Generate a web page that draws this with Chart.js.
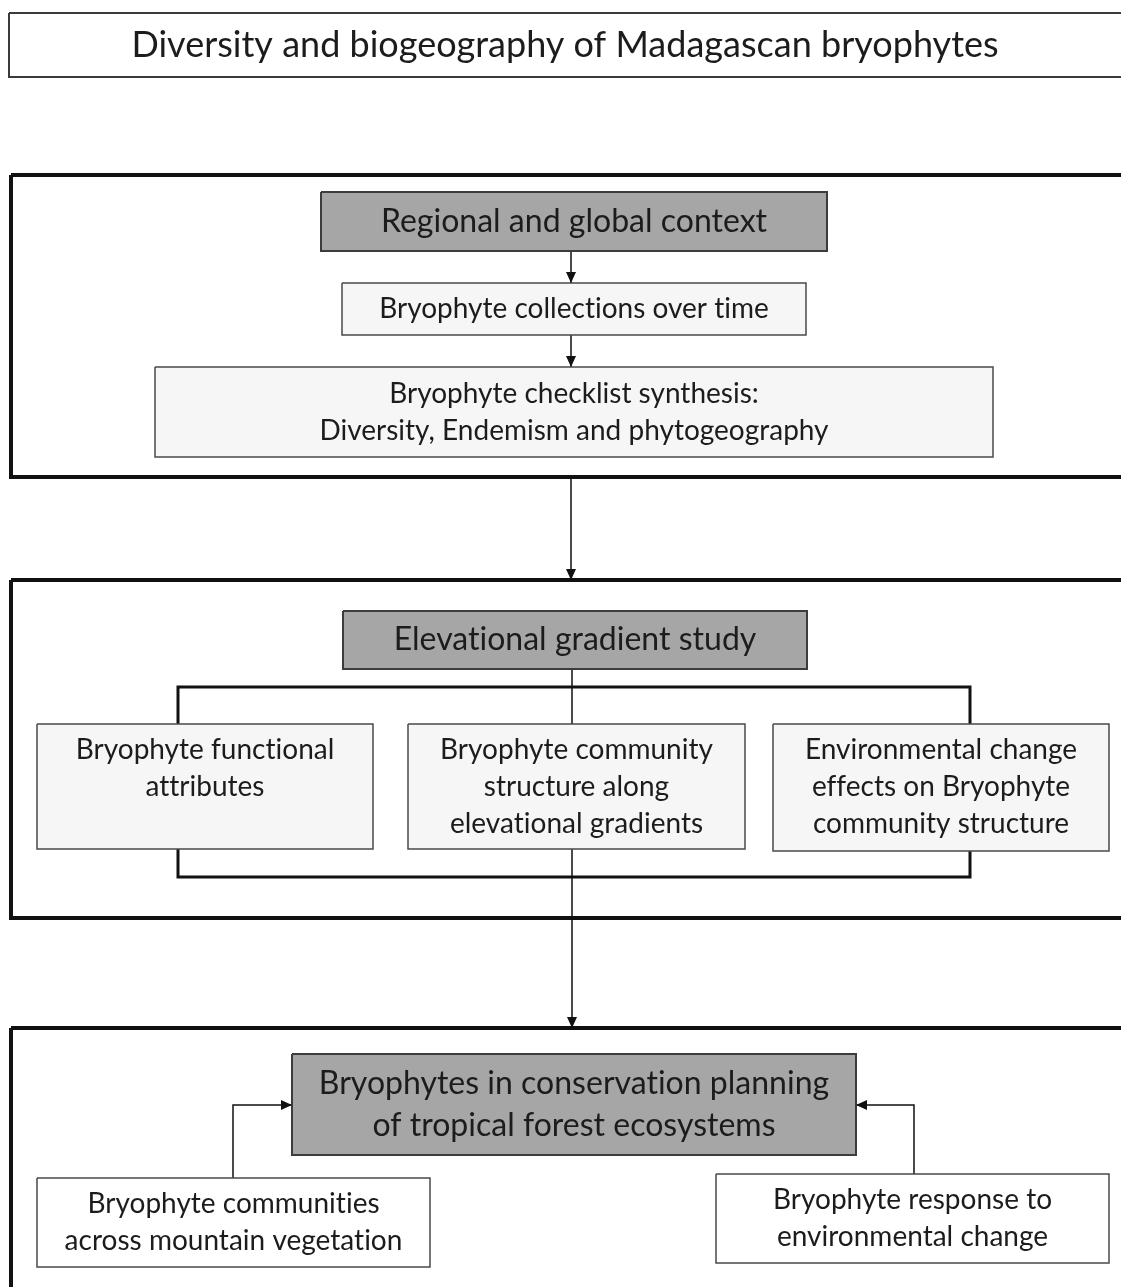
<!DOCTYPE html>
<html>
<head>
<meta charset="utf-8">
<script src="https://cdn.jsdelivr.net/npm/chart.js@4"></script>
<style>
  html, body { margin: 0; padding: 0; background: #fff; }
  canvas { display: block; }
</style>
</head>
<body>
<canvas id="flow" width="1121" height="1287"></canvas>
<script>
// --- diagram content (x0, y0, x1, y1 in diagram units, y grows downwards) ---
const panelBounds = [
  [11, 175, 1140, 477],
  [11, 580, 1140, 918],
  [11, 1028, 1140, 1300]
];

const nodeLabels = [
  ["Diversity and biogeography of Madagascan bryophytes"],
  ["Regional and global context"],
  ["Bryophyte collections over time"],
  ["Bryophyte checklist synthesis:", "Diversity, Endemism and phytogeography"],
  ["Elevational gradient study"],
  ["Bryophyte functional", "attributes"],
  ["Bryophyte community", "structure along", "elevational gradients"],
  ["Environmental change", "effects on Bryophyte", "community structure"],
  ["Bryophytes in conservation planning", "of tropical forest ecosystems"],
  ["Bryophyte communities", "across mountain vegetation"],
  ["Bryophyte response to", "environmental change"]
];
const nodeKinds = ["title", "primary", "secondary", "secondary", "primary",
  "secondary", "secondary", "secondary", "primary", "leaf", "leaf"];
const nodeBounds = [
  [9, 13, 1140, 77],
  [321, 192, 827, 251],
  [342, 283, 806, 335],
  [155, 367, 993, 457],
  [343, 611, 807, 669],
  [37, 724, 373, 849],
  [408, 724, 745, 849],
  [773, 724, 1109, 851],
  [292, 1054, 856, 1155],
  [37, 1178, 430, 1267],
  [716, 1174, 1109, 1263]
];
const nodeAlign = ["middle", "middle", "middle", "middle", "middle",
  "top", "top", "top", "middle", "middle", "middle"];

const linkPaths = [
  [[571, 251], [571, 283]],
  [[571, 335], [571, 367]],
  [[571, 477], [571, 580]],
  [[572, 669], [572, 724]],
  [[178, 724], [178, 687], [970, 687], [970, 724]],
  [[178, 849], [178, 877], [970, 877], [970, 851]],
  [[572, 849], [572, 1028]],
  [[233, 1178], [233, 1105], [292, 1105]],
  [[914, 1174], [914, 1105], [856, 1105]]
];
const linkArrows = [true, true, true, false, false, false, true, true, true];
const linkKinds = ["thin", "thin", "thin", "thin", "bracket", "bracket", "thin", "thin", "thin"];

// --- styling ---
const boxStyle = {
  panel:     { fill: null,      stroke: "#111111", width: 4 },
  title:     { fill: "#ffffff", stroke: "#3a3a3a", width: 2 },
  primary:   { fill: "#a6a6a6", stroke: "#3c3c3c", width: 2 },
  secondary: { fill: "#f6f6f6", stroke: "#4a4a4a", width: 1.5 },
  leaf:      { fill: "#ffffff", stroke: "#4a4a4a", width: 1.5 }
};
const linkStyle = {
  thin:    { stroke: "#111111", width: 1.5 },
  bracket: { stroke: "#111111", width: 3 }
};
const textStyle = {
  title:     { size: 36, lineH: 40, pad: 34 },
  primary:   { size: 32, lineH: 42, pad: 30 },
  secondary: { size: 28, lineH: 37, pad: 26 },
  leaf:      { size: 28, lineH: 37, pad: 26 }
};
const FONT = "Lato, 'Open Sans', sans-serif";

function rectPoints(b) {
  return [
    { x: b[0], y: b[1] }, { x: b[2], y: b[1] },
    { x: b[2], y: b[3] }, { x: b[0], y: b[3] }, { x: b[0], y: b[1] }
  ];
}

const datasets = [];

nodeBounds.forEach((b, i) => {
  const s = boxStyle[nodeKinds[i]];
  datasets.push({
    label: nodeLabels[i].join(" "),
    data: rectPoints(b),
    showLine: true,
    borderColor: s.stroke,
    borderWidth: s.width,
    backgroundColor: s.fill,
    fill: s.fill ? "shape" : false,
    pointRadius: 0,
    tension: 0,
    borderJoinStyle: "miter",
    order: 1
  });
});

linkPaths.forEach((p, i) => {
  const s = linkStyle[linkKinds[i]];
  datasets.push({
    label: "link " + i,
    data: p.map(q => ({ x: q[0], y: q[1] })),
    showLine: true,
    borderColor: s.stroke,
    borderWidth: s.width,
    fill: false,
    pointRadius: 0,
    tension: 0,
    borderJoinStyle: "miter",
    order: 2
  });
});

panelBounds.forEach((b, i) => {
  const s = boxStyle.panel;
  datasets.push({
    label: "panel " + i,
    data: rectPoints(b),
    showLine: true,
    borderColor: s.stroke,
    borderWidth: s.width,
    fill: false,
    pointRadius: 0,
    tension: 0,
    borderJoinStyle: "miter",
    order: 3
  });
});

// arrowheads and box texts, placed through the scales
const flowDecor = {
  id: "flowDecor",
  afterDatasetsDraw(chart) {
    const { ctx, scales } = chart;
    const px = v => scales.x.getPixelForValue(v);
    const py = v => scales.y.getPixelForValue(v);
    ctx.save();

    // arrowheads
    ctx.fillStyle = "#111111";
    linkPaths.forEach((p, i) => {
      if (!linkArrows[i]) return;
      const a = p[p.length - 2], b = p[p.length - 1];
      const x1 = px(a[0]), y1 = py(a[1]), x2 = px(b[0]), y2 = py(b[1]);
      const ang = Math.atan2(y2 - y1, x2 - x1);
      const len = 11, half = 5;
      ctx.beginPath();
      ctx.moveTo(x2, y2);
      ctx.lineTo(x2 - len * Math.cos(ang) + half * Math.sin(ang), y2 - len * Math.sin(ang) - half * Math.cos(ang));
      ctx.lineTo(x2 - len * Math.cos(ang) - half * Math.sin(ang), y2 - len * Math.sin(ang) + half * Math.cos(ang));
      ctx.closePath();
      ctx.fill();
    });

    // labels (tiny letter spacing keeps Lato from using fi/ti ligatures)
    ctx.fillStyle = "#1c1c1c";
    ctx.textAlign = "center";
    ctx.textBaseline = "middle";
    if ("letterSpacing" in ctx) ctx.letterSpacing = "0.01px";
    nodeLabels.forEach((lines, i) => {
      const b = nodeBounds[i];
      const t = textStyle[nodeKinds[i]];
      ctx.font = t.size + "px " + FONT;
      const cx = px((b[0] + Math.min(b[2], 1121)) / 2);
      let y0;
      if (nodeAlign[i] === "top") {
        y0 = py(b[1]) + t.pad;
      } else {
        const mid = (py(b[1]) + py(b[3])) / 2;
        y0 = mid - (lines.length - 1) * t.lineH / 2;
      }
      lines.forEach((ln, k) => ctx.fillText(ln, cx, y0 + k * t.lineH));
    });
    ctx.restore();
  }
};

new Chart(document.getElementById("flow"), {
  type: "scatter",
  data: { datasets: datasets },
  options: {
    responsive: false,
    animation: false,
    devicePixelRatio: 1,
    layout: { padding: 0 },
    events: [],
    scales: {
      x: { type: "linear", min: 0, max: 1121, display: false },
      y: { type: "linear", min: 0, max: 1287, reverse: true, display: false }
    },
    plugins: {
      legend: { display: false },
      tooltip: { enabled: false }
    }
  },
  plugins: [flowDecor]
});
</script>
</body>
</html>
